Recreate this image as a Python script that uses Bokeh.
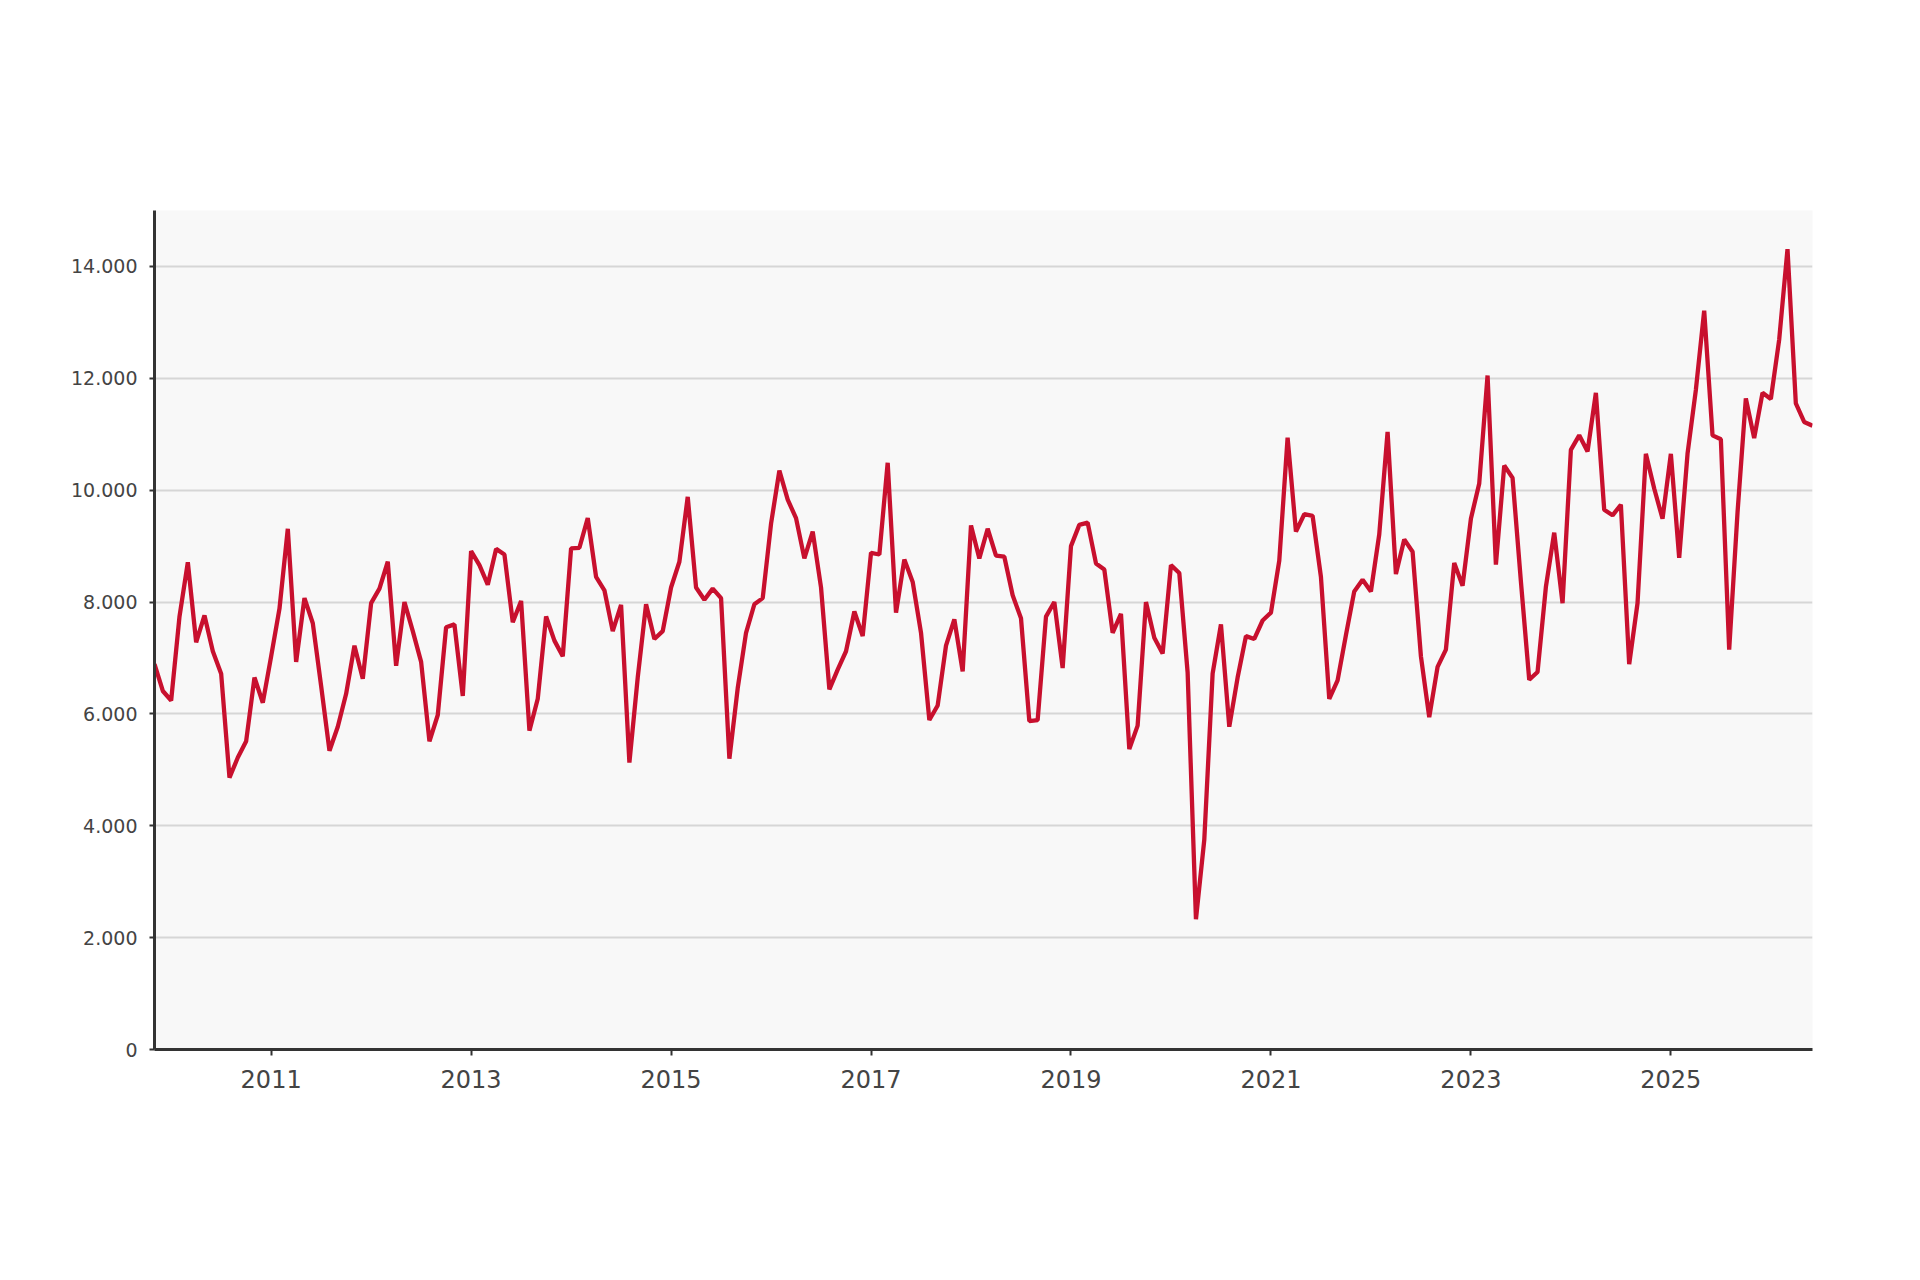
from bokeh.plotting import figure
from bokeh.models import Range1d, FixedTicker, Label, BoxAnnotation, ColumnDataSource
from bokeh.embed import file_html
from bokeh.resources import INLINE

# Monthly companies created, Nov 2009 .. Jun 2026
empresas = [
    6890, 6410, 6240, 7740, 8710, 7280, 7760, 7120, 6720, 4860, 5220, 5510, 6650, 6200, 7030, 7880,
    9310, 6930, 8070, 7620, 6500, 5340, 5770, 6360, 7220, 6630, 7980, 8240, 8720, 6860, 8000, 7480,
    6930, 5510, 5980, 7550, 7600, 6320, 8910, 8660, 8310, 8950, 8850, 7640, 8020, 5700, 6270, 7740,
    7310, 7030, 8960, 8970, 9500,
    8450, 8210, 7480, 7950, 5130, 6650, 7960, 7340, 7480, 8260, 8720, 9880, 8260, 8040, 8240, 8070,
    5200, 6460, 7450, 7960, 8070, 9400, 10350, 9830, 9500, 8780, 9260, 8260, 6440, 6790, 7120, 7830,
    7390, 8880, 8850, 10490, 7810, 8760, 8360, 7450, 5890, 6150, 7220, 7690, 6760, 9370, 8780, 9310,
    8830, 8810,
    8120, 7710, 5870, 5890, 7740, 8000, 6820, 9000, 9380, 9420, 8690, 8580, 7450, 7790, 5370, 5790,
    8000, 7360, 7080, 8660, 8520, 6740, 2330, 3750, 6720, 7600, 5770, 6650, 7390, 7340, 7670, 7810,
    8740, 10940, 9260, 9570, 9540, 8450, 6270, 6600, 7410, 8190, 8400, 8190, 9210, 11040, 8500, 9120,
    8900, 7030, 5940,
    6840, 7150, 8700, 8290, 9490, 10120, 12050, 8670, 10440, 10220, 8370, 6610, 6750, 8270, 9240, 7980,
    10720, 10980, 10690, 11740, 9650, 9550, 9740, 6890, 7980, 10650, 10030, 9490, 10650, 8790, 10650, 11790,
    13210, 10980, 10910, 7150, 9600, 11640, 10930, 11740, 11630, 12690, 14310, 11550, 11220, 11153,
]
months = list(range(len(empresas)))
year_ticks = [14 + 24 * i for i in range(8)]
year_labels = ["2011", "2013", "2015", "2017", "2019", "2021", "2023", "2025"]
y_ticks = [0, 2000, 4000, 6000, 8000, 10000, 12000, 14000]
y_labels = ["0", "2.000", "4.000", "6.000", "8.000", "10.000", "12.000", "14.000"]

W, H = 1900, 1260
BL, BB = 154, 211
p = figure(width=W, height=H, output_backend="svg", toolbar_location=None,
           x_range=Range1d(0, len(empresas) - 1), y_range=Range1d(0, 15000),
           min_border_left=BL, min_border_right=88, min_border_top=210, min_border_bottom=BB)
p.background_fill_color = "#f8f8f8"
p.border_fill_color = "white"
p.outline_line_color = None

src = ColumnDataSource(dict(x=months, y=empresas))
p.line("x", "y", source=src, line_color="#c8102e", line_width=4.3)

p.xaxis.ticker = FixedTicker(ticks=year_ticks)
p.xaxis.major_label_overrides = {t: l for t, l in zip(year_ticks, year_labels)}
p.yaxis.ticker = FixedTicker(ticks=y_ticks)
p.yaxis.major_label_overrides = {t: l for t, l in zip(y_ticks, y_labels)}
for ax in (p.xaxis, p.yaxis):
    ax.axis_line_color = "#333333"
    ax.axis_line_width = 3
    ax.major_tick_line_color = "#333333"
    ax.major_tick_line_width = 2
    ax.major_tick_in = 0
    ax.minor_tick_line_color = None
    ax.major_label_text_font = "DejaVu Sans"
    ax.major_label_text_color = "#444444"
p.xaxis.major_tick_out = 6
p.yaxis.major_tick_out = 5
p.xaxis.major_label_text_font_size = "24px"
p.xaxis.major_label_standoff = 14
p.yaxis.major_label_text_font_size = "19px"
p.yaxis.major_label_standoff = 12
p.xgrid.grid_line_color = None
p.ygrid.grid_line_color = "#d6d6d6"
p.ygrid.grid_line_width = 2

# annotation screen coords are relative to the plot frame (origin bottom-left of frame)
def lab(x, y, t, size, bold=False, align="left", base="alphabetic", color="#000000"):
    p.add_layout(Label(x=x - BL, y=y - BB, x_units="screen", y_units="screen", text=t,
                       text_font="DejaVu Sans", text_font_size=size,
                       text_font_style="bold" if bold else "normal",
                       text_align=align, text_baseline=base, text_color=color))

def box(l, r, b, t, color):
    p.add_layout(BoxAnnotation(left=l - BL, right=r - BL, bottom=b - BB, top=t - BB,
                               left_units="screen", right_units="screen",
                               bottom_units="screen", top_units="screen",
                               fill_color=color, fill_alpha=1, line_color=None))

lab(967, 1186, "En España se crearon 11.153 empresas en junio de 2026", "42px", True, "center", "middle")
lab(44, 1093, "Empresas", "30px", False, "left", "middle")

box(504, 524, 47, 67, "#c8102e")
lab(537, 46, "Empresas constituidas", "30px")
lab(978, 46, "Fuente:", "30px", True)
lab(1112, 46, "INE", "30px")
lab(1168, 46, ",", "30px")
lab(1188, 46, "www.epdata.es", "30px")
box(1112, 1167, 36, 38, "black")
box(1188, 1438, 36, 38, "black")

open("out.html", "w").write(file_html(p, INLINE))
